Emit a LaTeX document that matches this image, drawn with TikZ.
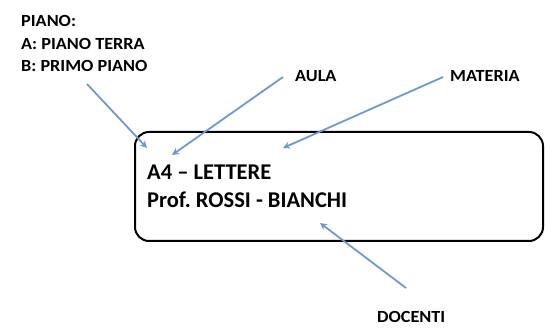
\documentclass[tikz,border=0pt]{standalone}
\usepackage{fontspec}
\setmainfont{Carlito}
\usetikzlibrary{arrows.meta}
\frenchspacing
\definecolor{arrowblue}{RGB}{112,152,208}
\newcommand{\wide}[1]{\scalebox{1.07}[1]{#1}}
\tikzset{
  lbl/.style={font=\bfseries\fontsize{17}{19}\selectfont, inner sep=0pt, anchor=base west},
  bigtxt/.style={font=\bfseries\fontsize{22.5}{26}\selectfont, inner sep=0pt, anchor=base west},
  ptr/.style={draw=arrowblue, line width=1.8pt, -{Stealth[length=7pt,width=7pt]}},
  frame/.style={draw=black, line width=2pt, rounded corners=14pt}
}
\begin{document}
\begin{tikzpicture}[x=1pt,y=-1pt]
\useasboundingbox (0,0) rectangle (545,328);
\draw[frame] (135,132) rectangle (543,241);
\node[bigtxt] (l1) at (147,180) {A4 – LETTERE};
\node[bigtxt] (l2) at (147,208) {Prof. ROSSI - BIANCHI};
\node[lbl] (piano) at (21,27) {\wide{PIANO:}};
\node[lbl] (pa) at (21,50) {\wide{A: PIANO TERRA}};
\node[lbl] (pb) at (21,72) {\wide{B: PRIMO PIANO}};
\node[lbl] (aula) at (295,82) {\wide{AULA}};
\node[lbl] (materia) at (450,82) {\wide{MATERIA}};
\node[lbl] (docenti) at (377,322) {\wide{DOCENTI}};
\coordinate (s1) at (87,84);  \coordinate (e1) at (147,148);
\coordinate (s2) at (283,77); \coordinate (e2) at (172,155);
\coordinate (s3) at (443,77); \coordinate (e3) at (283,148);
\coordinate (s4) at (406,288);\coordinate (e4) at (320,223);
\draw[ptr] (s1) -- (e1);
\draw[ptr] (s2) -- (e2);
\draw[ptr] (s3) -- (e3);
\draw[ptr] (s4) -- (e4);
\end{tikzpicture}
\end{document}
